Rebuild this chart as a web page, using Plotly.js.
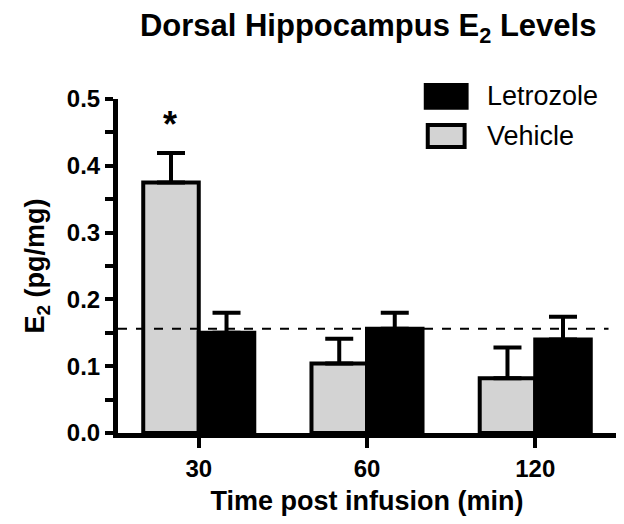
<!DOCTYPE html>
<html>
<head>
<meta charset="utf-8">
<script src="https://cdn.plot.ly/plotly-3.0.1.min.js"></script>
<style>
  body { margin: 0; background: #fff; }
  #chart { width: 624px; height: 524px; }
</style>
</head>
<body>
<div id="chart"></div>
<script>
// time points (min)
const times = ["30", "60", "120"];

// E2 levels, pg/mg
const vehicleMeans = [0.375, 0.104, 0.082];
const vehicleErr = [0.044, 0.037, 0.046];
const letrozoleMeans = [0.150, 0.156, 0.140];
const letrozoleErr = [0.030, 0.024, 0.034];

const seriesNames = ["Vehicle", "Letrozole"];
const baselineLevel = 0.156;   // dashed reference line
const starLevel = 0.462;       // significance marker above 30 min vehicle

const font = "Liberation Sans, Arial, sans-serif";
const gray = "#d3d3d3";

function errorBar(vals) {
    return {
        type: "data", array: vals, arrayminus: vals.map(() => 0),
        symmetric: false, color: "#000", thickness: 4, width: 14
    };
}

const data = [
    {
        type: "bar", name: seriesNames[0], x: times, y: vehicleMeans,
        marker: {color: gray, line: {color: "#000", width: 4}},
        error_y: errorBar(vehicleErr)
    },
    {
        type: "bar", name: seriesNames[1], x: times, y: letrozoleMeans,
        marker: {color: "#000", line: {color: "#000", width: 4}},
        error_y: errorBar(letrozoleErr)
    }
];

const layout = {
    width: 624, height: 524,
    margin: {l: 118, r: 8, t: 99, b: 91},
    paper_bgcolor: "#fff", plot_bgcolor: "#fff",
    showlegend: false,
    barmode: "group", bargap: 0.34, bargroupgap: 0,
    title: {
        text: "Dorsal Hippocampus E<sub>2</sub> Levels",
        font: {family: font, size: 31, color: "#000", weight: "bold"},
        x: 0.59, xanchor: "center", y: 0.952, yanchor: "middle"
    },
    xaxis: {
        type: "category", range: [-0.48, 2.48],
        showline: true, linecolor: "#000", linewidth: 5,
        ticks: "outside", ticklen: 10, tickwidth: 4, tickcolor: "#000",
        tickfont: {family: font, size: 24, color: "#000", weight: "bold"},
        showgrid: false, zeroline: false,
        title: {
            text: "Time post infusion (min)", standoff: 12,
            font: {family: font, size: 27, color: "#000", weight: "bold"}
        }
    },
    yaxis: {
        range: [0, 0.5], dtick: 0.1, tickformat: ".1f",
        showline: true, linecolor: "#000", linewidth: 5,
        ticks: "outside", ticklen: 8, tickwidth: 4, tickcolor: "#000",
        minor: {dtick: 0.05, ticks: "outside", ticklen: 8, tickwidth: 4, tickcolor: "#000"},
        tickfont: {family: font, size: 24, color: "#000", weight: "bold"},
        showgrid: false, zeroline: false,
        title: {
            text: "E<sub>2</sub> (pg/mg)", standoff: 16,
            font: {family: font, size: 27, color: "#000", weight: "bold"}
        }
    },
    shapes: [
        {type: "line", xref: "paper", yref: "y", x0: 0, x1: 0.985,
         y0: baselineLevel, y1: baselineLevel,
         line: {color: "#000", width: 2, dash: "dash"}},
        // legend swatches
        {type: "rect", xref: "paper", yref: "paper", x0: 0.618, x1: 0.700, y0: 0.974, y1: 1.042,
         fillcolor: "#000", line: {color: "#000", width: 4}},
        {type: "rect", xref: "paper", yref: "paper", x0: 0.622, x1: 0.696, y0: 0.856, y1: 0.922,
         fillcolor: gray, line: {color: "#000", width: 4}}
    ],
    annotations: [
        {x: times.indexOf("30"), y: starLevel, xref: "x", yref: "y", xshift: -29, text: "*",
         showarrow: false, font: {family: font, size: 36, color: "#000", weight: "bold"}},
        {x: 0.737, y: 1.008, xref: "paper", yref: "paper", xanchor: "left", yanchor: "middle",
         text: seriesNames[1], showarrow: false, font: {family: font, size: 27, color: "#000"}},
        {x: 0.737, y: 0.889, xref: "paper", yref: "paper", xanchor: "left", yanchor: "middle",
         text: seriesNames[0], showarrow: false, font: {family: font, size: 27, color: "#000"}}
    ]
};

Plotly.newPlot("chart", data, layout, {displayModeBar: false});
</script>
</body>
</html>
